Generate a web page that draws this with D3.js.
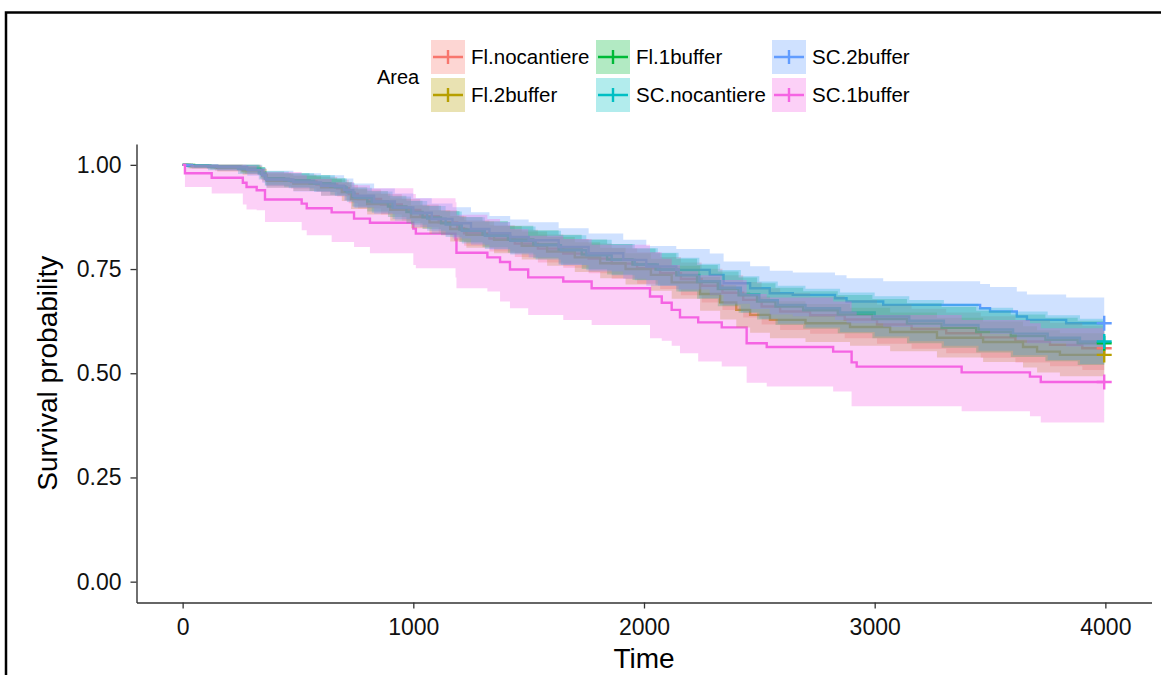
<!DOCTYPE html>
<html>
<head>
<meta charset="utf-8">
<script src="https://cdn.jsdelivr.net/npm/d3@7/dist/d3.min.js"></script>
<style>
  body { margin: 0; background: #fff; }
  svg { display: block; font-family: "Liberation Sans", Arial, sans-serif; }
</style>
</head>
<body>
<svg id="chart" width="1161" height="675"></svg>
<script>
// each row: [time, survival, lower, upper]
const flNocantiere = [
  [0, 1.000, 1.000, 1.000], [40, 0.997, 0.991, 1.000], [140, 0.994, 0.986, 1.000],
  [270, 0.989, 0.978, 1.000], [340, 0.978, 0.964, 0.992], [362, 0.965, 0.949, 0.981],
  [470, 0.960, 0.943, 0.977], [580, 0.953, 0.935, 0.971], [670, 0.944, 0.924, 0.964],
  [720, 0.930, 0.908, 0.952], [760, 0.918, 0.895, 0.941], [860, 0.905, 0.881, 0.930],
  [950, 0.892, 0.866, 0.918], [1030, 0.877, 0.850, 0.905], [1110, 0.862, 0.834, 0.891],
  [1190, 0.848, 0.819, 0.878], [1220, 0.836, 0.806, 0.867], [1330, 0.823, 0.792, 0.855],
  [1440, 0.811, 0.779, 0.844], [1540, 0.799, 0.766, 0.833], [1650, 0.787, 0.753, 0.822],
  [1760, 0.775, 0.740, 0.811], [1860, 0.763, 0.727, 0.800], [1970, 0.752, 0.715, 0.790],
  [2070, 0.740, 0.702, 0.779], [2160, 0.726, 0.687, 0.766], [2250, 0.710, 0.670, 0.751],
  [2340, 0.693, 0.652, 0.735], [2430, 0.676, 0.634, 0.719], [2510, 0.660, 0.617, 0.704],
  [2590, 0.648, 0.604, 0.693], [2720, 0.639, 0.595, 0.685], [2870, 0.629, 0.584, 0.676],
  [3010, 0.617, 0.571, 0.665], [3160, 0.606, 0.559, 0.655], [3310, 0.596, 0.548, 0.646],
  [3460, 0.586, 0.537, 0.637], [3610, 0.576, 0.526, 0.628], [3760, 0.568, 0.517, 0.621],
  [3900, 0.560, 0.508, 0.614], [3995, 0.560, 0.508, 0.614]
]
const fl2buffer = [
  [0, 1.000, 1.000, 1.000], [30, 0.997, 0.991, 1.000], [150, 0.993, 0.984, 1.000],
  [260, 0.987, 0.976, 0.998], [345, 0.975, 0.960, 0.990], [365, 0.962, 0.945, 0.979],
  [480, 0.955, 0.937, 0.973], [600, 0.946, 0.926, 0.966], [690, 0.935, 0.913, 0.957],
  [730, 0.918, 0.894, 0.942], [800, 0.906, 0.881, 0.931], [900, 0.892, 0.866, 0.919],
  [990, 0.875, 0.848, 0.903], [1070, 0.862, 0.834, 0.891], [1160, 0.846, 0.816, 0.877],
  [1230, 0.832, 0.801, 0.864], [1350, 0.820, 0.788, 0.853], [1470, 0.806, 0.773, 0.840],
  [1580, 0.792, 0.758, 0.827], [1700, 0.778, 0.743, 0.814], [1810, 0.764, 0.728, 0.801],
  [1920, 0.750, 0.713, 0.788], [2030, 0.736, 0.698, 0.775], [2120, 0.718, 0.679, 0.758],
  [2243, 0.690, 0.650, 0.731], [2330, 0.670, 0.629, 0.712], [2400, 0.652, 0.610, 0.695],
  [2460, 0.640, 0.597, 0.684], [2546, 0.628, 0.584, 0.673], [2700, 0.620, 0.575, 0.666],
  [2893, 0.611, 0.566, 0.657], [3067, 0.599, 0.553, 0.646], [3270, 0.585, 0.538, 0.633],
  [3470, 0.575, 0.527, 0.624], [3643, 0.563, 0.514, 0.613], [3704, 0.552, 0.502, 0.603],
  [3803, 0.544, 0.493, 0.596], [3995, 0.544, 0.493, 0.596]
]
const fl1buffer = [
  [0, 1.000, 1.000, 1.000], [50, 0.998, 0.993, 1.000], [120, 0.996, 0.989, 1.000],
  [250, 0.991, 0.980, 1.000], [335, 0.981, 0.967, 0.995], [358, 0.968, 0.952, 0.984],
  [440, 0.963, 0.946, 0.980], [550, 0.956, 0.937, 0.975], [640, 0.948, 0.928, 0.968],
  [705, 0.937, 0.915, 0.959], [735, 0.923, 0.900, 0.946], [800, 0.912, 0.888, 0.937],
  [890, 0.900, 0.875, 0.926], [970, 0.887, 0.860, 0.914], [1040, 0.874, 0.846, 0.902],
  [1120, 0.860, 0.831, 0.889], [1200, 0.845, 0.815, 0.875], [1300, 0.833, 0.802, 0.865],
  [1410, 0.821, 0.789, 0.854], [1520, 0.809, 0.776, 0.843], [1630, 0.797, 0.763, 0.832],
  [1730, 0.785, 0.750, 0.821], [1840, 0.773, 0.737, 0.810], [1950, 0.761, 0.724, 0.799],
  [2050, 0.749, 0.711, 0.788], [2140, 0.735, 0.696, 0.775], [2230, 0.719, 0.679, 0.760],
  [2320, 0.702, 0.661, 0.744], [2410, 0.687, 0.645, 0.730], [2490, 0.672, 0.629, 0.716],
  [2570, 0.660, 0.616, 0.705], [2690, 0.651, 0.607, 0.697], [2840, 0.641, 0.596, 0.688],
  [2990, 0.630, 0.584, 0.678], [3140, 0.619, 0.572, 0.668], [3290, 0.609, 0.561, 0.659],
  [3440, 0.599, 0.550, 0.650], [3590, 0.589, 0.539, 0.641], [3740, 0.580, 0.529, 0.633],
  [3880, 0.572, 0.520, 0.626], [3995, 0.572, 0.520, 0.626]
]
const scNocantiere = [
  [0, 1.000, 1.000, 1.000], [20, 0.998, 0.992, 1.000], [110, 0.995, 0.987, 1.000],
  [240, 0.990, 0.978, 1.000], [330, 0.980, 0.965, 0.995], [356, 0.967, 0.950, 0.984],
  [460, 0.962, 0.944, 0.980], [570, 0.955, 0.935, 0.975], [660, 0.946, 0.925, 0.967],
  [712, 0.934, 0.911, 0.957], [745, 0.921, 0.897, 0.945], [820, 0.910, 0.885, 0.936],
  [910, 0.897, 0.870, 0.924], [990, 0.884, 0.856, 0.913], [1060, 0.871, 0.842, 0.901],
  [1140, 0.857, 0.827, 0.888], [1210, 0.842, 0.811, 0.874], [1310, 0.830, 0.798, 0.863],
  [1420, 0.818, 0.785, 0.852], [1530, 0.807, 0.773, 0.842], [1640, 0.795, 0.760, 0.831],
  [1750, 0.783, 0.747, 0.820], [1860, 0.772, 0.735, 0.810], [1960, 0.761, 0.723, 0.800],
  [2060, 0.749, 0.710, 0.789], [2150, 0.736, 0.696, 0.777], [2240, 0.721, 0.680, 0.763],
  [2330, 0.705, 0.663, 0.748], [2420, 0.689, 0.646, 0.733], [2500, 0.675, 0.631, 0.720],
  [2580, 0.664, 0.619, 0.710], [2700, 0.656, 0.610, 0.703], [2850, 0.646, 0.599, 0.694],
  [3000, 0.636, 0.588, 0.685], [3150, 0.626, 0.577, 0.676], [3300, 0.616, 0.566, 0.667],
  [3450, 0.605, 0.554, 0.657], [3600, 0.595, 0.543, 0.648], [3750, 0.585, 0.532, 0.639],
  [3890, 0.576, 0.522, 0.631], [3995, 0.576, 0.522, 0.631]
]
const sc2buffer = [
  [0, 1.000, 1.000, 1.000], [40, 0.998, 0.992, 1.000], [150, 0.995, 0.986, 1.000],
  [280, 0.988, 0.974, 1.000], [345, 0.975, 0.957, 0.993], [362, 0.965, 0.945, 0.986],
  [480, 0.958, 0.936, 0.980], [600, 0.950, 0.926, 0.975], [700, 0.940, 0.914, 0.967],
  [740, 0.926, 0.898, 0.955], [830, 0.912, 0.882, 0.943], [920, 0.898, 0.866, 0.931],
  [1000, 0.885, 0.851, 0.920], [1080, 0.870, 0.834, 0.907], [1170, 0.860, 0.823, 0.898],
  [1250, 0.846, 0.808, 0.886], [1330, 0.836, 0.797, 0.877], [1420, 0.827, 0.787, 0.869],
  [1500, 0.819, 0.778, 0.862], [1630, 0.803, 0.760, 0.848], [1760, 0.788, 0.744, 0.835],
  [1910, 0.772, 0.727, 0.820], [2010, 0.756, 0.710, 0.805], [2140, 0.748, 0.701, 0.798],
  [2285, 0.736, 0.688, 0.787], [2345, 0.716, 0.667, 0.768], [2460, 0.704, 0.654, 0.757],
  [2545, 0.692, 0.641, 0.746], [2645, 0.688, 0.637, 0.742], [2828, 0.680, 0.628, 0.735],
  [2878, 0.672, 0.620, 0.728], [3037, 0.664, 0.611, 0.721], [3457, 0.656, 0.602, 0.714],
  [3500, 0.648, 0.594, 0.707], [3616, 0.636, 0.581, 0.696], [3660, 0.628, 0.572, 0.689],
  [3830, 0.620, 0.564, 0.682], [3995, 0.620, 0.564, 0.682]
]
const sc1buffer = [
  [0, 1.000, 1.000, 1.000], [10, 0.980, 0.947, 1.000], [126, 0.969, 0.931, 1.000],
  [261, 0.957, 0.905, 1.000], [277, 0.947, 0.893, 0.998], [321, 0.939, 0.891, 0.990],
  [357, 0.917, 0.863, 0.983], [516, 0.907, 0.843, 0.975], [538, 0.896, 0.831, 0.966],
  [646, 0.886, 0.815, 0.958], [743, 0.871, 0.803, 0.951], [812, 0.861, 0.788, 0.944],
  [1000, 0.847, 0.760, 0.930], [1011, 0.835, 0.752, 0.920], [1183, 0.821, 0.730, 0.910],
  [1187, 0.789, 0.704, 0.880], [1321, 0.778, 0.696, 0.870], [1376, 0.767, 0.672, 0.862],
  [1419, 0.749, 0.656, 0.846], [1498, 0.730, 0.640, 0.830], [1650, 0.720, 0.628, 0.822],
  [1773, 0.704, 0.616, 0.808], [2026, 0.684, 0.584, 0.790], [2077, 0.669, 0.578, 0.775],
  [2120, 0.652, 0.566, 0.760], [2156, 0.634, 0.548, 0.745], [2235, 0.622, 0.528, 0.735],
  [2337, 0.610, 0.516, 0.724], [2445, 0.572, 0.477, 0.690], [2532, 0.563, 0.468, 0.682],
  [2820, 0.552, 0.456, 0.672], [2900, 0.526, 0.421, 0.648], [2922, 0.516, 0.421, 0.640],
  [3377, 0.502, 0.409, 0.628], [3673, 0.492, 0.397, 0.620], [3720, 0.479, 0.382, 0.608],
  [3995, 0.479, 0.382, 0.608]
]

const groupNames = ["Fl.nocantiere", "Fl.2buffer", "Fl.1buffer", "SC.nocantiere", "SC.2buffer", "SC.1buffer"]
const groupColors = ["#F8766D", "#B79F00", "#00BA38", "#00BFC4", "#619CFF", "#F564E3"]
const groupData = [flNocantiere, fl2buffer, fl1buffer, scNocantiere, sc2buffer, sc1buffer]
const xTicks = [0, 1000, 2000, 3000, 4000]
const yTicks = [0, 0.25, 0.5, 0.75, 1]

const svg = d3.select("#chart")

// frame around the image (top and left edges visible)
svg.append("path")
  .attr("d", "M6,675 V12.5 H1161")
  .attr("fill", "none")
  .attr("stroke", "#000")
  .attr("stroke-width", 2.5)

const panelLeft = 136.5, panelRight = 1151.5, panelTop = 144, panelBottom = 602.5

const xScale = d3.scaleLinear().domain([-200, 4200]).range([panelLeft, panelRight])
const yScale = d3.scaleLinear().domain([-0.05, 1.05]).range([panelBottom, panelTop])

const line = d3.line()
  .curve(d3.curveStepAfter)
  .x(d => xScale(d[0]))
  .y(d => yScale(d[1]))

const band = d3.area()
  .curve(d3.curveStepAfter)
  .x(d => xScale(d[0]))
  .y0(d => yScale(d[2]))
  .y1(d => yScale(d[3]))

const plot = svg.append("g")

// survival steps first, then the confidence ribbons on top (as ggsurvplot does)
groupData.forEach((rows, i) => {
  plot.append("path")
    .attr("d", line(rows))
    .attr("fill", "none")
    .attr("stroke", groupColors[i])
    .attr("stroke-width", 2.4)
})
groupData.forEach((rows, i) => {
  plot.append("path")
    .attr("d", band(rows))
    .attr("fill", groupColors[i])
    .attr("fill-opacity", 0.3)
})
// censor marks at the last time
groupData.forEach((rows, i) => {
  const last = rows[rows.length - 1]
  const cx = xScale(last[0]), cy = yScale(last[1])
  plot.append("path")
    .attr("d", `M${cx - 7.5},${cy} H${cx + 7.5} M${cx},${cy - 7.5} V${cy + 7.5}`)
    .attr("stroke", groupColors[i])
    .attr("stroke-width", 2.4)
    .attr("fill", "none")
})

// axes
const xAxis = svg.append("g")
  .attr("transform", "translate(0," + panelBottom + ")")
  .call(d3.axisBottom(xScale).tickValues(xTicks).tickSize(6).tickSizeOuter(0).tickPadding(10)
    .tickFormat(d3.format("d")))
const yAxis = svg.append("g")
  .attr("transform", "translate(" + panelLeft + ",0)")
  .call(d3.axisLeft(yScale).tickValues(yTicks).tickSize(6).tickSizeOuter(0).tickPadding(9)
    .tickFormat(d3.format(".2f")))

;[xAxis, yAxis].forEach(ax => {
  ax.select(".domain").attr("stroke", "#333").attr("stroke-width", 1.4)
  ax.selectAll(".tick line").attr("stroke", "#333").attr("stroke-width", 1.3)
  ax.selectAll(".tick text")
    .attr("fill", "#111")
    .style("font-size", "23px")
    .style("font-family", "'Liberation Sans', Arial, sans-serif")
})

svg.append("text")
  .attr("x", (panelLeft + panelRight) / 2)
  .attr("y", 668)
  .attr("text-anchor", "middle")
  .style("font-size", "28px")
  .attr("fill", "#000")
  .text("Time")

svg.append("text")
  .attr("transform", "translate(57," + (panelTop + panelBottom) / 2 + ") rotate(-90)")
  .attr("text-anchor", "middle")
  .style("font-size", "28px")
  .attr("fill", "#000")
  .text("Survival probability")

// legend
const legend = svg.append("g")
legend.append("text")
  .attr("x", 377)
  .attr("y", 84)
  .style("font-size", "20px")
  .attr("fill", "#000")
  .text("Area")

const colX = [431, 596, 772]
const rowY = [40, 78]
groupNames.forEach((name, i) => {
  const kx = colX[Math.floor(i / 2)], ky = rowY[i % 2]
  const g = legend.append("g").attr("transform", `translate(${kx},${ky})`)
  g.append("rect")
    .attr("width", 34).attr("height", 34)
    .attr("fill", groupColors[i]).attr("fill-opacity", 0.3)
  g.append("path")
    .attr("d", "M2,17 H32 M17,10 V24")
    .attr("stroke", groupColors[i])
    .attr("stroke-width", 2.4)
    .attr("fill", "none")
  g.append("text")
    .attr("x", 40)
    .attr("y", 24)
    .style("font-size", "20.5px")
    .attr("fill", "#000")
    .text(name)
})
</script>
</body>
</html>
